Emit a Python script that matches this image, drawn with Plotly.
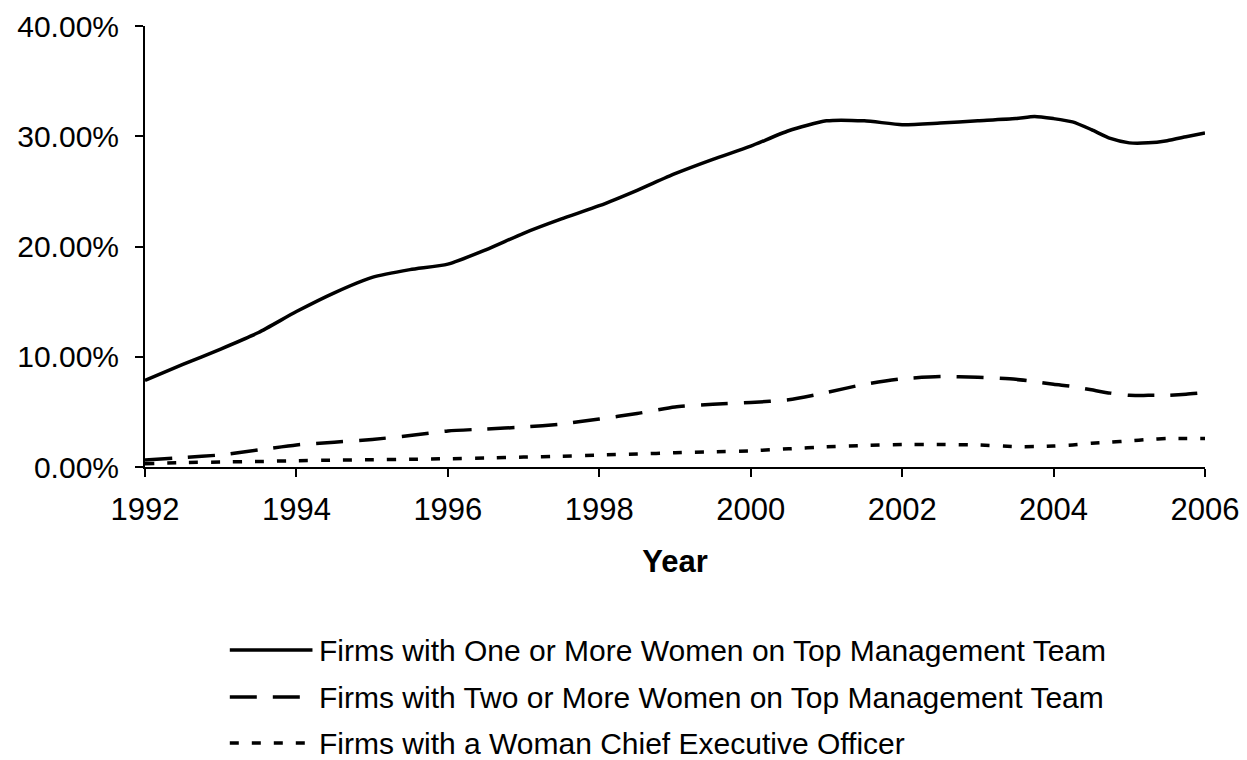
import plotly.graph_objects as go

years = [1992, 1992.5, 1993, 1993.5, 1994, 1994.5, 1995, 1995.5, 1996, 1996.5,
         1997, 1997.5, 1998, 1998.5, 1999, 1999.5, 2000, 2000.5, 2001, 2001.5,
         2002, 2002.5, 2003, 2003.5, 2003.75, 2004, 2004.25, 2004.5, 2004.75,
         2005, 2005.25, 2005.5, 2005.75, 2006]

one_or_more = [7.85, 9.3, 10.7, 12.2, 14.1, 15.8, 17.2, 17.9, 18.4, 19.7,
               21.2, 22.5, 23.7, 25.1, 26.6, 27.9, 29.1, 30.5, 31.4, 31.4,
               31.05, 31.2, 31.4, 31.6, 31.8, 31.6, 31.3, 30.6, 29.8,
               29.4, 29.4, 29.6, 29.95, 30.3]

two_or_more = [0.63, 0.85, 1.1, 1.55, 2.0, 2.25, 2.5, 2.85, 3.27, 3.45,
               3.62, 3.9, 4.35, 4.85, 5.45, 5.7, 5.85, 6.1, 6.75, 7.5,
               8.0, 8.2, 8.15, 7.95, 7.75, 7.5, 7.3, 7.0, 6.7,
               6.5, 6.5, 6.5, 6.6, 6.75]

woman_ceo = [0.3, 0.4, 0.45, 0.5, 0.57, 0.62, 0.66, 0.7, 0.75, 0.82,
             0.9, 0.98, 1.08, 1.18, 1.29, 1.38, 1.47, 1.65, 1.83, 1.95,
             2.04, 2.04, 2.0, 1.85, 1.85, 1.9, 2.0, 2.15, 2.25,
             2.37, 2.5, 2.58, 2.58, 2.58]

series_names = [
    "Firms with One or More Women on Top Management Team",
    "Firms with Two or More Women on Top Management Team",
    "Firms with a Woman Chief Executive Officer",
]
x_ticks = [1992, 1994, 1996, 1998, 2000, 2002, 2004, 2006]
y_ticks = [0, 0.1, 0.2, 0.3, 0.4]

FONT = "Arial, 'Liberation Sans', sans-serif"
dashes = ["solid", "27px,16px", "9px,13px"]
data = [one_or_more, two_or_more, woman_ceo]

fig = go.Figure()
for name, vals, d in zip(series_names, data, dashes):
    fig.add_trace(go.Scatter(
        x=years, y=[v / 100 for v in vals], mode="lines", name=name,
        line=dict(color="black", width=3.5, dash=d, shape="spline", smoothing=0.6),
        showlegend=False,
    ))

# manual legend (long line samples like the original)
PLOT_TOP, PLOT_BOTTOM = 18, 459          # in figure pixels
plot_h = PLOT_BOTTOM - PLOT_TOP
leg_px = [642, 689, 735]                 # legend row centres, figure pixels
for name, d, py in zip(series_names, dashes, leg_px):
    ly = (PLOT_BOTTOM - py) / plot_h
    fig.add_shape(type="line", xref="paper", yref="paper",
                  x0=0.080, x1=0.158, y0=ly, y1=ly,
                  line=dict(color="black", width=3.5, dash=d))
    fig.add_annotation(xref="paper", yref="paper", x=0.162, y=ly, text=name,
                       showarrow=False, xanchor="left", yanchor="middle",
                       font=dict(family=FONT, size=30, color="black"))

fig.update_layout(
    width=1239, height=752,
    margin=dict(l=137, r=42, t=PLOT_TOP, b=752 - PLOT_BOTTOM),
    paper_bgcolor="white", plot_bgcolor="white",
    font=dict(family=FONT, color="black"),
)
fig.update_xaxes(
    range=[1992, 2006], tickvals=x_ticks, ticktext=[str(t) for t in x_ticks],
    showline=True, linecolor="black", linewidth=2, ticks="outside",
    ticklen=8, tickwidth=2, tickcolor="black", showgrid=False, zeroline=False,
    tickfont=dict(size=31, family=FONT), ticklabelstandoff=6,
    ticklabeloverflow="allow", automargin=False,
    title=dict(text="<b>Year</b>", font=dict(size=31, family=FONT), standoff=24),
)
fig.update_yaxes(
    range=[0, 0.4], tickvals=y_ticks, tickformat=".2%",
    showline=True, linecolor="black", linewidth=2, ticks="outside",
    ticklen=8, tickwidth=2, tickcolor="black", showgrid=False, zeroline=False,
    tickfont=dict(size=30, family=FONT), ticklabelstandoff=10,
    ticklabeloverflow="allow", automargin=False,
)

fig.write_html("out.html")
